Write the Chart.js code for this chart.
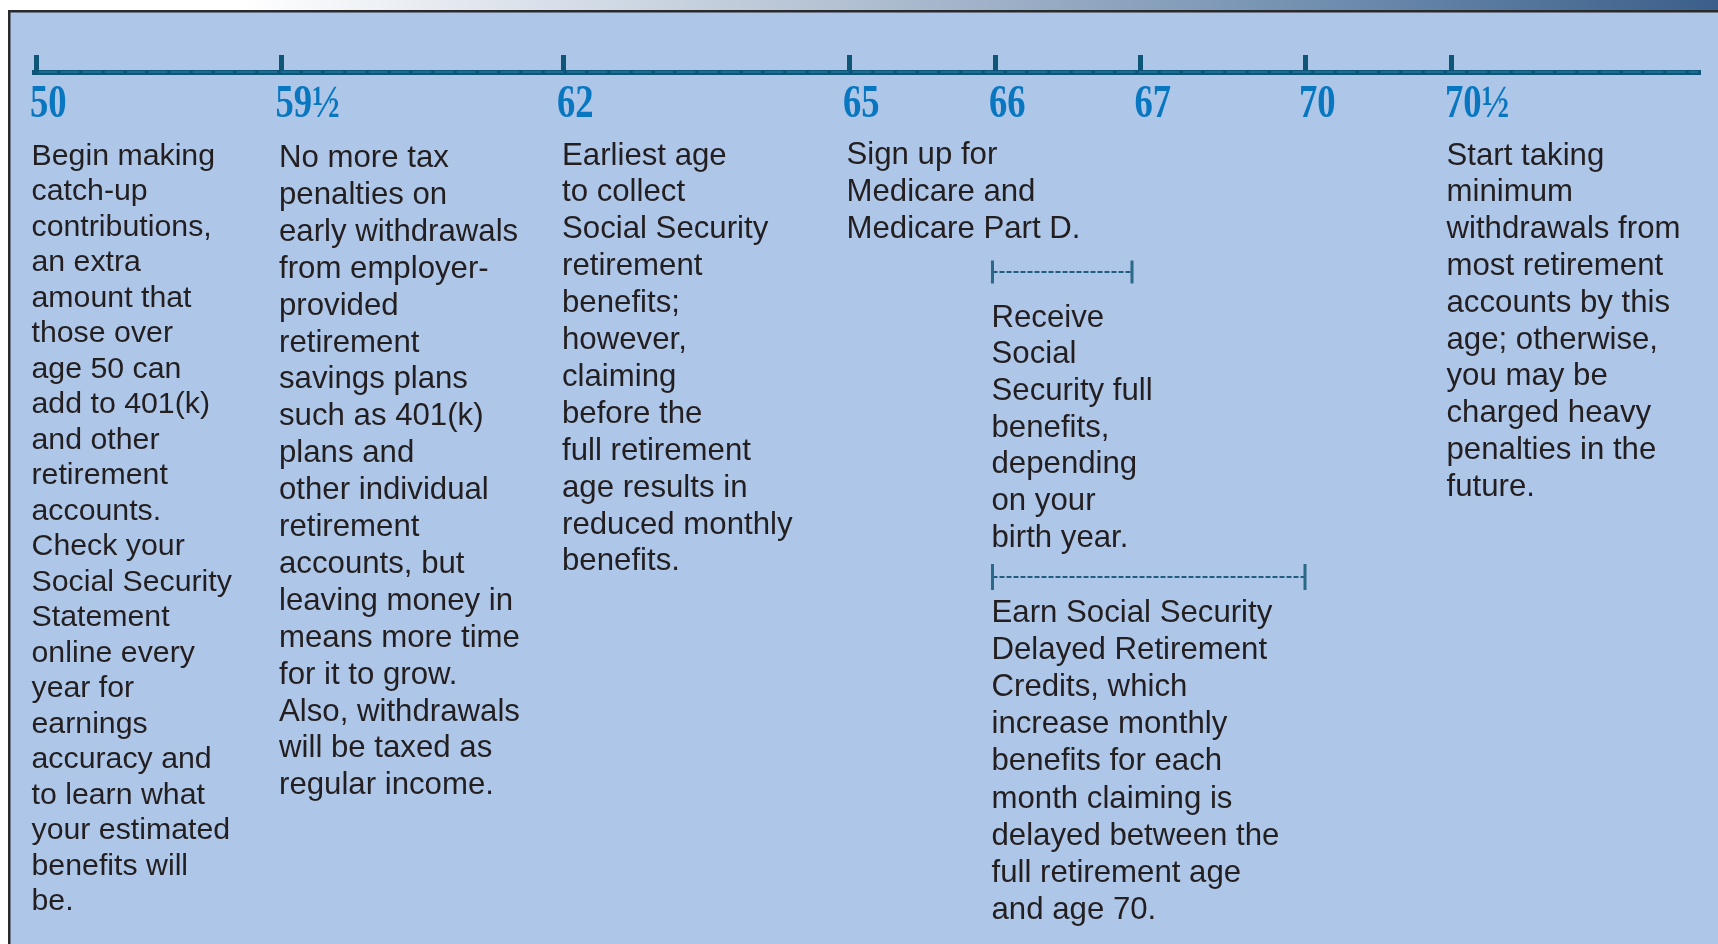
<!DOCTYPE html>
<html>
<head>
<meta charset="utf-8">
<script src="https://cdn.jsdelivr.net/npm/chart.js@4/dist/chart.umd.min.js"></script>
<style>
  html, body { margin: 0; padding: 0; background: #fff; }
  canvas { display: block; }
</style>
</head>
<body>
<canvas id="timeline" width="1718" height="944"></canvas>
<script>
// ages marked on the timeline
const ageLabels = ['50', '59½', '62', '65', '66', '67', '70', '70½'];

// what happens at each age (null = nothing written under that tick)
const ageNotes = [
    ['Begin making', 'catch-up', 'contributions,', 'an extra', 'amount that', 'those over',
     'age 50 can', 'add to 401(k)', 'and other', 'retirement', 'accounts.', 'Check your',
     'Social Security', 'Statement', 'online every', 'year for', 'earnings', 'accuracy and',
     'to learn what', 'your estimated', 'benefits will', 'be.'],
    ['No more tax', 'penalties on', 'early withdrawals', 'from employer-', 'provided',
     'retirement', 'savings plans', 'such as 401(k)', 'plans and', 'other individual',
     'retirement', 'accounts, but', 'leaving money in', 'means more time', 'for it to grow.',
     'Also, withdrawals', 'will be taxed as', 'regular income.'],
    ['Earliest age', 'to collect', 'Social Security', 'retirement', 'benefits;', 'however,',
     'claiming', 'before the', 'full retirement', 'age results in', 'reduced monthly', 'benefits.'],
    ['Sign up for', 'Medicare and', 'Medicare Part D.'],
    null,
    null,
    null,
    ['Start taking', 'minimum', 'withdrawals from', 'most retirement', 'accounts by this',
     'age; otherwise,', 'you may be', 'charged heavy', 'penalties in the', 'future.']
];

// ranges between two ages
const spanFrom = ['66', '66'];
const spanTo = ['67', '70'];
const spanNotes = [
    ['Receive', 'Social', 'Security full', 'benefits,', 'depending', 'on your', 'birth year.'],
    ['Earn Social Security', 'Delayed Retirement', 'Credits, which', 'increase monthly',
     'benefits for each', 'month claiming is', 'delayed between the', 'full retirement age',
     'and age 70.']
];

// ---- layout (track units = px from the left end of the axis, rows = px below the axis) ----
const tickAt = [2, 247.5, 529, 815, 961, 1106.5, 1271, 1417];
const noteAt = [-2.5, 245, 528, 812.5, null, null, null, 1412.5];
const noteTop = [92.5, 95, 92.5, 91.5, 0, 0, 0, 92.5];
const noteLead = [35.5, 36.9, 36.9, 37.25, 0, 0, 0, 36.8];
const noteSize = [30.3, 31.2, 31.2, 31.2, 0, 0, 0, 31.2];
const spanStartAt = { '66': 958.5 };
const spanEndAt = { '67': 1098, '70': 1271 };
const spanRow = [200, 505];
const spanCap = [11.5, 13];
const spanTextTop = [254.5, 550];
const spanLead = [36.7, 37.1];

const INK = '#231f20';
const AXIS = '#0d5677';
const TEXT_FONT = '"Liberation Sans", Arial, Helvetica, sans-serif';

// panel background, border and the gradient strip at the very top
const backdrop = {
    id: 'backdrop',
    beforeDraw(chart) {
        const { ctx, width, height } = chart;
        ctx.save();
        const g = ctx.createLinearGradient(0, 0, width, 0);
        g.addColorStop(0, '#ffffff');
        g.addColorStop(0.14, '#ffffff');
        g.addColorStop(0.45, '#bcc8d8');
        g.addColorStop(0.75, '#7592b2');
        g.addColorStop(1, '#3a5f8a');
        ctx.fillStyle = g;
        ctx.fillRect(0, 0, width, 11);
        ctx.fillStyle = '#aec6e8';
        ctx.fillRect(9, 11, width - 9, height - 11);
        ctx.strokeStyle = '#2a2a2a';
        ctx.lineWidth = 2.5;
        ctx.beginPath();
        ctx.moveTo(9.25, height);
        ctx.lineTo(9.25, 11.25);
        ctx.lineTo(width, 11.25);
        ctx.stroke();
        ctx.restore();
    }
};

// condensed age labels under the ticks + all the note text
const notes = {
    id: 'notes',
    afterDraw(chart) {
        const { ctx } = chart;
        const x = chart.scales.x, y = chart.scales.y;
        const axisY = y.getPixelForValue(0);
        ctx.save();

        // lighter dashed core of the axis line
        ctx.strokeStyle = '#1d6d93';
        ctx.lineWidth = 1.8;
        ctx.setLineDash([18, 4]);
        ctx.beginPath();
        ctx.moveTo(chart.chartArea.left + 5, axisY);
        ctx.lineTo(chart.chartArea.right - 2, axisY);
        ctx.stroke();
        ctx.setLineDash([]);

        ctx.fillStyle = '#0877c0';
        ctx.font = 'bold 47px "Liberation Serif", "Times New Roman", serif';
        ctx.textBaseline = 'alphabetic';
        x.ticks.forEach((t, i) => {
            ctx.save();
            ctx.translate(x.getPixelForValue(t.value) - 6, axisY + 45);
            ctx.scale(0.78, 1);
            ctx.fillText(ageLabels[i], 0, 0);
            ctx.restore();
        });

        ctx.fillStyle = INK;
        ageNotes.forEach((lines, i) => {
            if (!lines) return;
            ctx.font = noteSize[i] + 'px ' + TEXT_FONT;
            const left = x.getPixelForValue(noteAt[i]);
            lines.forEach((s, k) => {
                ctx.fillText(s, left, y.getPixelForValue(noteTop[i] + k * noteLead[i]));
            });
        });
        ctx.font = '31.2px ' + TEXT_FONT;
        spanNotes.forEach((lines, i) => {
            const left = x.getPixelForValue(spanStartAt[spanFrom[i]]) - 1;
            lines.forEach((s, k) => {
                ctx.fillText(s, left, y.getPixelForValue(spanTextTop[i] + k * spanLead[i]));
            });
        });
        ctx.restore();
    }
};

new Chart(document.getElementById('timeline'), {
    type: 'line',
    data: {
        datasets: spanFrom.map((from, i) => ({
            label: from + '–' + spanTo[i],
            data: [
                { x: spanStartAt[from], y: spanRow[i] },
                { x: spanEndAt[spanTo[i]], y: spanRow[i] }
            ],
            borderColor: '#1f5f7d',
            borderWidth: 2.2,
            borderDash: [5, 2],
            pointStyle: 'line',
            rotation: 90,
            pointRadius: spanCap[i],
            pointBorderColor: '#2a6a88',
            pointBorderWidth: 3
        }))
    },
    options: {
        responsive: false,
        animation: false,
        events: [],
        layout: { autoPadding: false, padding: { top: 11, left: 34, right: 18, bottom: 0 } },
        plugins: { legend: { display: false }, tooltip: { enabled: false } },
        scales: {
            x: {
                type: 'linear',
                position: 'top',
                min: 0,
                max: 1666,
                afterBuildTicks: s => { s.ticks = tickAt.map(v => ({ value: v })); },
                afterFit: s => { s.height = 61; },
                ticks: { display: false, autoSkip: false },
                grid: { drawOnChartArea: false, drawTicks: true, tickLength: 17, tickWidth: 5, tickColor: AXIS },
                border: { display: true, color: AXIS, width: 5 }
            },
            y: { type: 'linear', min: 0, max: 872, reverse: true, display: false }
        }
    },
    plugins: [backdrop, notes]
});
</script>
</body>
</html>
